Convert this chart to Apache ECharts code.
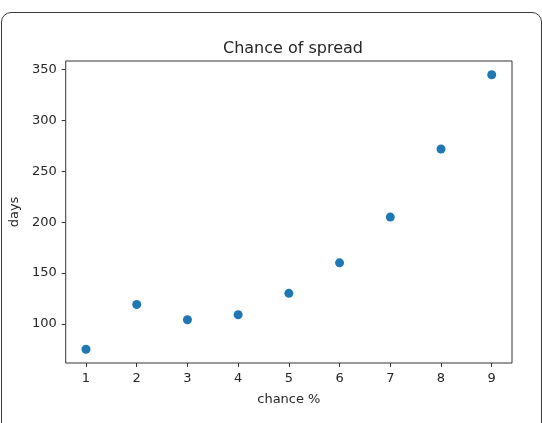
<!DOCTYPE html>
<html>
<head>
<meta charset="utf-8">
<script src="https://cdn.jsdelivr.net/npm/echarts@6/dist/echarts.min.js"></script>
<style>
  html, body { margin: 0; padding: 0; background: #fff; width: 542px; height: 423px; overflow: hidden; }
  #card { position: absolute; left: 1px; top: 12px; width: 541px; height: 480px; border: 1px solid #3a3a3a; border-radius: 10px; box-sizing: border-box; }
  #chart { position: absolute; left: 0; top: 0; width: 542px; height: 423px; }
</style>
</head>
<body>
<div id="card"></div>
<div id="chart"></div>
<script>
const chance = [1, 2, 3, 4, 5, 6, 7, 8, 9];
const days = [75, 119, 104, 109, 130, 160, 205, 272, 345];
const xTicks = [1, 2, 3, 4, 5, 6, 7, 8, 9];
const yTicks = [100, 150, 200, 250, 300, 350];

const xMin = 0.6, xMax = 9.4;
const yMin = 61.5, yMax = 358.5;

const chart = echarts.init(document.getElementById('chart'), null, { renderer: 'canvas' });
const font = 'DejaVu Sans';
chart.setOption({
  backgroundColor: 'transparent',
  animation: false,
  title: {
    text: 'Chance of spread',
    left: 288,
    top: 36,
    textAlign: 'center',
    textStyle: { fontFamily: font, fontSize: 16, fontWeight: 'normal', color: '#262626' }
  },
  grid: {
    left: 64, top: 61, width: 448, height: 302,
    show: true, borderColor: '#333', borderWidth: 1, backgroundColor: 'transparent'
  },
  xAxis: {
    type: 'value', min: xMin, max: xMax,
    name: 'chance %', nameLocation: 'middle', nameGap: 30,
    nameTextStyle: { fontFamily: font, fontSize: 13, color: '#262626' },
    axisLine: { show: false },
    splitLine: { show: false },
    axisTick: { show: true, length: 4, lineStyle: { color: '#333' }, customValues: xTicks },
    axisLabel: { fontFamily: font, fontSize: 13, color: '#262626', margin: 9, customValues: xTicks }
  },
  yAxis: {
    type: 'value', min: yMin, max: yMax,
    name: 'days', nameLocation: 'middle', nameGap: 43, nameRotate: 90,
    nameTextStyle: { fontFamily: font, fontSize: 13, color: '#262626' },
    axisLine: { show: false },
    splitLine: { show: false },
    axisTick: { show: true, length: 4, lineStyle: { color: '#333' }, customValues: yTicks },
    axisLabel: { fontFamily: font, fontSize: 13, color: '#262626', margin: 9, customValues: yTicks }
  },
  series: [{
    type: 'scatter',
    data: chance.map((c, i) => [c, days[i]]),
    symbolSize: 9,
    itemStyle: { color: '#1f77b4', opacity: 1 }
  }]
});
</script>
</body>
</html>
